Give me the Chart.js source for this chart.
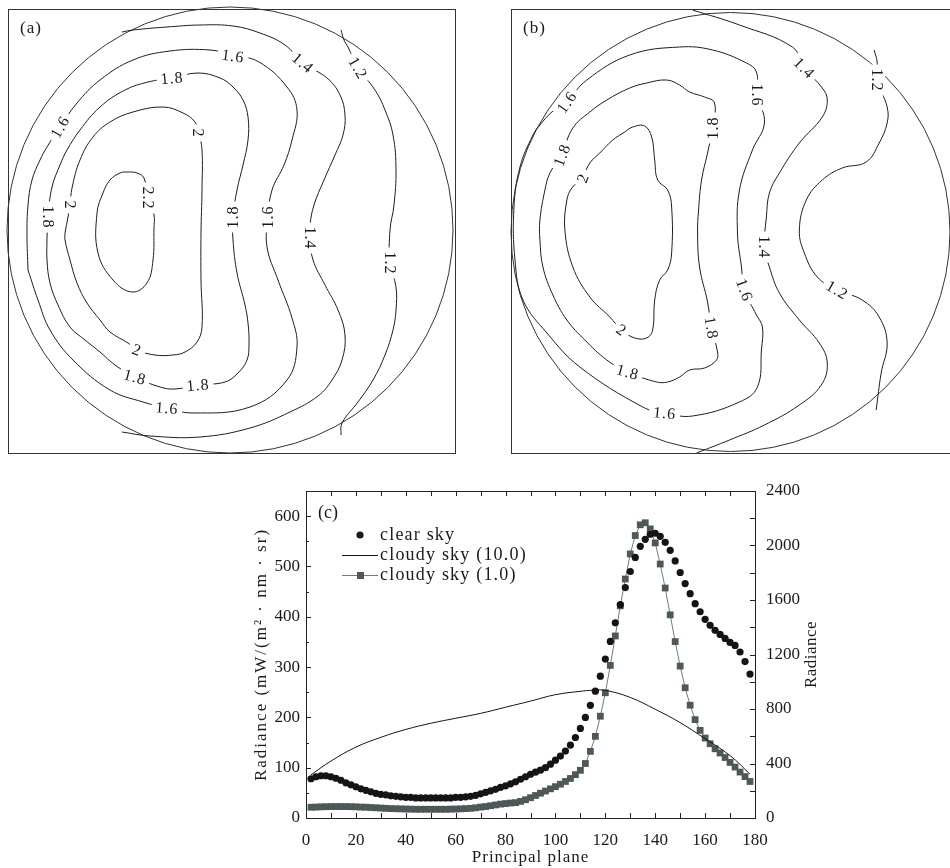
<!DOCTYPE html>
<html lang="en">

<head>
    <meta charset="UTF-8">
    <title>Sky radiance maps</title>
    <script src="https://cdn.jsdelivr.net/npm/chart.js"></script>
    <style>
        body { margin: 0; background: #fff; }
        #page { position: relative; width: 950px; height: 868px; overflow: hidden; }
        canvas { position: absolute; }
        #chartA { left: 0; top: 0; }
        #chartB { left: 480px; top: 0; }
        #chartC { left: 0; top: 465px; }
    </style>
</head>

<body>
    <div id="page">
        <canvas id="chartA" width="475" height="462"></canvas>
        <canvas id="chartB" width="470" height="462"></canvas>
        <canvas id="chartC" width="950" height="403"></canvas>
    </div>
    <script>
        const serif = '"Liberation Serif", "DejaVu Serif", serif';

        // ---- panel (c): principal plane radiance ----
        const angles = [2, 4, 6, 8, 10, 12, 14, 16, 18, 20, 22, 24, 26, 28, 30, 32, 34, 36, 38, 40,
            42, 44, 46, 48, 50, 52, 54, 56, 58, 60, 62, 64, 66, 68, 70, 72, 74, 76, 78, 80,
            82, 84, 86, 88, 90, 92, 94, 96, 98, 100, 102, 104, 106, 108, 110, 112, 114, 116, 118, 120,
            122, 124, 126, 128, 130, 132, 134, 136, 138, 140, 142, 144, 146, 148, 150, 152, 154, 156, 158, 160,
            162, 164, 166, 168, 170, 172, 174, 176, 178];
        const clearSky = [78, 82, 84, 84, 82, 79, 75, 70, 66, 62, 58, 55, 52, 49, 47, 46, 44, 43, 42, 41,
            41, 40, 40, 40, 40, 40, 40, 40, 40, 41, 41, 42, 43, 45, 48, 51, 54, 57, 61, 64,
            68, 72, 77, 82, 87, 91, 95, 100, 107, 115, 123, 133, 145, 160, 178, 200, 224, 252, 282, 316,
            351, 388, 424, 458, 490, 518, 540, 554, 564, 566, 560, 548, 532, 511, 488, 466, 446, 426, 410, 395,
            383, 373, 365, 357, 349, 343, 330, 311, 286];
        const cloudyThin = [79, 80, 82, 83, 84, 84, 84, 84, 83, 82, 80, 79, 77, 75, 73, 71, 69, 68, 67, 66,
            65, 64, 64, 64, 64, 64, 64, 64, 65, 66, 67, 69, 71, 75, 80, 84, 90, 96, 102, 106,
            110, 113, 122, 134, 149, 165, 182, 198, 214, 230, 248, 268, 290, 318, 350, 400, 489, 599, 747, 919,
            1120, 1336, 1557, 1754, 1938, 2073, 2152, 2167, 2122, 2019, 1864, 1688, 1491, 1295, 1115, 956, 828, 722, 643, 587,
            545, 508, 477, 444, 408, 374, 337, 304, 268];
        const thickAngles = [2, 10, 20, 30, 40, 50, 60, 70, 80, 90, 100, 110, 115, 120, 130, 140, 150, 160, 170, 178];
        const cloudyThick = [317, 418, 520, 592, 650, 695, 732, 768, 813, 858, 905, 930, 938, 937, 885, 798, 700, 582, 458, 322];

        const xTicks = { min: 0, max: 180, step: 20, minor: 10 };
        const leftTicks = { min: 0, max: 650, step: 100, minor: 50 };
        const rightTicks = { min: 0, max: 2400, step: 400, minor: 200 };

        // ---- panels (a) and (b): contour lines, map coordinates ----
        const a16 = [[28, 270], [27, 235], [28, 205], [32, 180], [40, 160], [47, 147], [60, 127], [77, 103], [100, 80], [133, 60], [170, 51], [210, 50], [233, 55], [259, 62], [287, 87], [297, 110], [292, 140], [284, 165], [272, 190], [268, 217], [267, 247], [278, 280], [292, 318], [297, 347], [287, 380], [250, 407], [192, 413], [167, 408], [143, 402], [110, 390], [73, 360], [50, 330], [38, 300], [28, 270]];
        const a18 = [[47, 238], [48, 217], [52, 187], [60, 165], [67, 150], [80, 130], [100, 107], [125, 90], [148, 82], [172, 78], [198, 73], [220, 78], [233, 87], [243, 100], [248, 117], [248, 140], [243, 165], [237, 190], [233, 217], [233, 240], [237, 273], [245, 305], [248, 323], [249, 345], [247, 360], [238, 373], [225, 382], [198, 385], [175, 389], [160, 387], [135, 377], [115, 365], [100, 352], [85, 340], [70, 327], [58, 305], [50, 283], [47, 260], [47, 238]];
        const a20 = [[65, 233], [70, 205], [72, 188], [80, 160], [93, 137], [110, 122], [133, 112], [163, 107], [183, 113], [195, 122], [199, 134], [202, 150], [202, 190], [201, 233], [201, 280], [202, 327], [197, 342], [185, 352], [173, 355], [155, 355], [137, 350], [128, 343], [110, 332], [100, 320], [87, 303], [77, 283], [70, 260], [65, 240], [65, 233]];
        const a22 = [[154, 228], [153, 260], [147, 283], [132, 292], [113, 280], [98, 253], [97, 213], [103, 193], [110, 180], [120, 173], [127, 172], [137, 173], [144, 178], [148, 198], [154, 215], [154, 228]];
        const a14 = [[122, 32], [133, 30], [167, 27], [200, 25], [233, 26], [260, 33], [285, 45], [303, 63], [327, 78], [340, 95], [345, 115], [343, 135], [335, 155], [324, 180], [314, 205], [310, 225], [310, 238], [313, 260], [325, 285], [338, 310], [345, 335], [342, 360], [332, 380], [318, 396], [290, 412], [250, 428], [200, 437], [150, 436], [122, 432]];
        const a12 = [[341, 30], [344, 40], [348, 47], [358, 68], [375, 90], [385, 110], [393, 135], [396, 170], [394, 205], [390, 230], [390, 263], [396, 287], [396, 310], [393, 330], [385, 355], [373, 380], [358, 402], [342, 423], [341, 435]];
        const labelsA = [
            { t: '1.6', x: 60, y: 127, r: -60 }, { t: '1.8', x: 172, y: 78, r: -5 }, { t: '1.6', x: 233, y: 56, r: 8 },
            { t: '1.4', x: 303, y: 63, r: 40 }, { t: '1.2', x: 358, y: 68, r: 60 }, { t: '2', x: 198, y: 133, r: 90 },
            { t: '2.2', x: 148, y: 198, r: 90 }, { t: '1.8', x: 48, y: 217, r: 90 }, { t: '2', x: 70, y: 205, r: 90 },
            { t: '1.8', x: 233, y: 217, r: -90 }, { t: '1.6', x: 268, y: 217, r: -90 }, { t: '1.4', x: 310, y: 238, r: 90 },
            { t: '1.2', x: 390, y: 263, r: 90 }, { t: '2', x: 137, y: 350, r: 20 }, { t: '1.8', x: 135, y: 377, r: 15 },
            { t: '1.8', x: 198, y: 385, r: -5 }, { t: '1.6', x: 167, y: 408, r: 5 }
        ];

        const b16 = [[567, 102], [552, 112], [540, 125], [533, 135], [520, 167], [514, 207], [515, 260], [523, 300], [547, 333], [580, 367], [643, 407], [665, 413], [693, 416], [740, 402], [758, 387], [762, 350], [763, 327], [757, 315], [745, 290], [742, 267], [738, 233], [740, 190], [753, 150], [765, 123], [758, 95], [757, 72], [747, 63], [713, 50], [680, 47], [630, 55], [587, 80], [567, 102]];
        const b18 = [[562, 155], [573, 128], [590, 112], [607, 100], [630, 88], [647, 83], [667, 80], [680, 85], [690, 92], [705, 97], [715, 103], [713, 128], [708, 153], [702, 180], [699, 210], [698, 233], [700, 267], [708, 302], [712, 328], [718, 352], [717, 360], [705, 368], [690, 370], [680, 377], [668, 382], [657, 382], [628, 372], [607, 360], [585, 340], [567, 320], [553, 295], [543, 267], [540, 240], [540, 220], [545, 190], [550, 173], [562, 155]];
        const b20 = [[583, 178], [590, 163], [600, 153], [613, 140], [625, 132], [633, 127], [645, 126], [652, 137], [655, 160], [658, 180], [668, 190], [672, 207], [672, 253], [668, 270], [660, 280], [655, 300], [653, 330], [647, 338], [635, 338], [622, 330], [610, 317], [590, 297], [573, 267], [565, 230], [567, 200], [572, 188], [583, 178]];
        const b14 = [[693, 10], [740, 25], [793, 47], [805, 68], [823, 88], [828, 100], [823, 117], [800, 143], [780, 173], [770, 193], [767, 217], [765, 247], [770, 267], [780, 293], [800, 320], [820, 343], [828, 363], [822, 385], [800, 405], [765, 425], [730, 440], [697, 453]];
        const b12 = [[875, 50], [878, 62], [878, 80], [888, 107], [888, 123], [880, 143], [867, 162], [843, 168], [823, 180], [807, 200], [800, 230], [805, 253], [818, 277], [838, 290], [863, 300], [880, 317], [888, 343], [882, 373], [877, 410]];
        const labelsB = [
            { t: '1.6', x: 567, y: 102, r: -55 }, { t: '1.8', x: 562, y: 155, r: -70 }, { t: '2', x: 583, y: 178, r: -70 },
            { t: '1.8', x: 713, y: 128, r: -90 }, { t: '1.6', x: 758, y: 95, r: 90 }, { t: '1.4', x: 805, y: 68, r: 45 },
            { t: '1.2', x: 878, y: 80, r: 90 }, { t: '1.4', x: 765, y: 247, r: 90 }, { t: '1.6', x: 745, y: 290, r: 70 },
            { t: '1.2', x: 838, y: 290, r: 30 }, { t: '1.8', x: 712, y: 328, r: 80 }, { t: '2', x: 622, y: 330, r: 35 },
            { t: '1.8', x: 628, y: 372, r: 15 }, { t: '1.6', x: 665, y: 413, r: 5 }
        ];

        const domeA = { cx: 230, cy: 230, r: 223 };
        const domeB = { cx: 731, cy: 232, r: 220 };

        // frame, sky dome circle and inline contour labels
        function mapDecor(dome, labels, tag) {
            return {
                id: 'mapDecor',
                beforeDatasetsDraw(chart) {
                    const { ctx, chartArea: a, scales: { x, y } } = chart;
                    ctx.save();
                    ctx.strokeStyle = '#333';
                    ctx.lineWidth = 1;
                    ctx.strokeRect(a.left + 0.5, a.top + 0.5, a.right - a.left, a.bottom - a.top);
                    const cx = x.getPixelForValue(dome.cx);
                    const cy = y.getPixelForValue(dome.cy);
                    const r = x.getPixelForValue(dome.cx + dome.r) - cx;
                    ctx.beginPath();
                    ctx.arc(cx, cy, r, 0, Math.PI * 2);
                    ctx.stroke();
                    ctx.restore();
                },
                afterDatasetsDraw(chart) {
                    const { ctx, chartArea: a, scales: { x, y } } = chart;
                    ctx.save();
                    ctx.font = '16px ' + serif;
                    ctx.letterSpacing = '1px';
                    ctx.textAlign = 'center';
                    ctx.textBaseline = 'middle';
                    labels.forEach(l => {
                        ctx.save();
                        ctx.translate(x.getPixelForValue(l.x), y.getPixelForValue(l.y));
                        ctx.rotate(l.r * Math.PI / 180);
                        const w = ctx.measureText(l.t).width;
                        ctx.fillStyle = '#fff';
                        ctx.fillRect(-w / 2 - 4, -8, w + 8, 16);
                        ctx.fillStyle = '#1a1a1a';
                        ctx.fillText(l.t, 0, 1);
                        ctx.restore();
                    });
                    ctx.font = '17px ' + serif;
                    ctx.textAlign = 'left';
                    ctx.fillStyle = '#1a1a1a';
                    ctx.fillText(tag, a.left + 12, a.top + 20);
                    ctx.restore();
                }
            };
        }

        function contourChart(id, lines, labels, dome, tag, xRange, yRange, pad) {
            return new Chart(document.getElementById(id), {
                type: 'scatter',
                data: {
                    datasets: lines.map(pts => ({
                        data: pts.map(p => ({ x: p[0], y: p[1] })),
                        showLine: true,
                        pointRadius: 0,
                        borderColor: '#1e1e1e',
                        borderWidth: 1,
                        tension: 0.4
                    }))
                },
                options: {
                    responsive: false,
                    animation: false,
                    events: [],
                    layout: { padding: pad },
                    plugins: { legend: { display: false }, tooltip: { enabled: false } },
                    scales: {
                        x: { type: 'linear', display: false, min: xRange[0], max: xRange[1] },
                        y: { type: 'linear', display: false, min: yRange[0], max: yRange[1], reverse: true }
                    }
                },
                plugins: [mapDecor(dome, labels, tag)]
            });
        }

        contourChart('chartA', [a16, a18, a20, a22, a14, a12], labelsA, domeA, '(a)',
            [8, 455], [9, 453], { left: 8, top: 9, right: 20, bottom: 9 });
        contourChart('chartB', [b16, b18, b20, b14, b12], labelsB, domeB, '(b)',
            [511, 951], [9, 453], { left: 31, top: 9, right: 0, bottom: 9 });

        // inward ticks, box, legend and axis titles for panel (c)
        const plotDecor = {
            id: 'plotDecor',
            afterDraw(chart) {
                const { ctx, chartArea: a, scales } = chart;
                ctx.save();
                ctx.strokeStyle = '#222';
                ctx.lineWidth = 1;
                ctx.strokeRect(a.left + 0.5, a.top + 0.5, a.right - a.left, a.bottom - a.top);
                ctx.beginPath();
                for (let v = xTicks.min; v <= xTicks.max; v += xTicks.minor) {
                    const px = Math.round(scales.x.getPixelForValue(v)) + 0.5;
                    ctx.moveTo(px, a.bottom); ctx.lineTo(px, a.bottom - 5);
                    ctx.moveTo(px, a.top); ctx.lineTo(px, a.top + 5);
                }
                for (let v = leftTicks.min; v <= leftTicks.max; v += leftTicks.minor) {
                    const py = Math.round(scales.y.getPixelForValue(v)) + 0.5;
                    const len = v % leftTicks.step === 0 ? 5 : 3;
                    ctx.moveTo(a.left, py); ctx.lineTo(a.left + len, py);
                }
                for (let v = rightTicks.min; v <= rightTicks.max; v += rightTicks.minor) {
                    const py = Math.round(scales.y2.getPixelForValue(v)) + 0.5;
                    ctx.moveTo(a.right, py); ctx.lineTo(a.right - 5, py);
                }
                ctx.stroke();

                ctx.fillStyle = '#1a1a1a';
                ctx.font = '18px ' + serif;
                ctx.textBaseline = 'middle';
                ctx.textAlign = 'left';
                ctx.fillText('(c)', a.left + 12, a.top + 22);

                // legend
                ctx.letterSpacing = '1.2px';
                const ds = chart.data.datasets;
                const lx = a.left + 36, tx = a.left + 74;
                let ly = a.top + 44;
                ctx.beginPath();
                ctx.arc(a.left + 54, ly, ds[0].pointRadius, 0, Math.PI * 2);
                ctx.fill();
                ctx.fillText(ds[0].label, tx, ly);
                ly += 20;
                ctx.strokeStyle = ds[1].borderColor;
                ctx.beginPath(); ctx.moveTo(lx, ly + 0.5); ctx.lineTo(lx + 36, ly + 0.5); ctx.stroke();
                ctx.fillText(ds[1].label, tx, ly);
                ly += 20;
                ctx.strokeStyle = ds[2].borderColor;
                ctx.beginPath(); ctx.moveTo(lx, ly + 0.5); ctx.lineTo(lx + 36, ly + 0.5); ctx.stroke();
                ctx.fillStyle = ds[2].pointBackgroundColor;
                ctx.fillRect(a.left + 51, ly - 3, 7, 7);
                ctx.fillStyle = '#1a1a1a';
                ctx.fillText(ds[2].label, tx, ly);

                // axis titles
                ctx.font = '17px ' + serif;
                ctx.textAlign = 'center';
                ctx.letterSpacing = '1px';
                ctx.fillText('Principal plane', (a.left + a.right) / 2, a.bottom + 40);
                const midY = (a.top + a.bottom) / 2;
                ctx.save();
                ctx.translate(a.left - 44, midY);
                ctx.rotate(-Math.PI / 2);
                ctx.letterSpacing = '2px';
                ctx.fillText('Radiance (mW/(m² · nm · sr)', 0, 0);
                ctx.restore();
                ctx.translate(a.right + 57, midY);
                ctx.rotate(-Math.PI / 2);
                ctx.letterSpacing = '0.5px';
                ctx.fillText('Radiance', 0, 0);
                ctx.restore();
            }
        };

        const tickFont = { family: serif, size: 17 };
        const plainNumber = v => String(v);

        new Chart(document.getElementById('chartC'), {
            type: 'scatter',
            data: {
                datasets: [
                    {
                        label: 'clear sky',
                        data: angles.map((a, i) => ({ x: a, y: clearSky[i] })),
                        yAxisID: 'y',
                        showLine: false,
                        pointRadius: 3.6,
                        pointBackgroundColor: '#141414',
                        pointBorderColor: '#141414',
                        pointBorderWidth: 0
                    },
                    {
                        label: 'cloudy sky (10.0)',
                        data: thickAngles.map((a, i) => ({ x: a, y: cloudyThick[i] })),
                        yAxisID: 'y2',
                        showLine: true,
                        pointRadius: 0,
                        borderColor: '#141414',
                        borderWidth: 1,
                        tension: 0.4
                    },
                    {
                        label: 'cloudy sky (1.0)',
                        data: angles.map((a, i) => ({ x: a, y: cloudyThin[i] })),
                        yAxisID: 'y2',
                        showLine: true,
                        pointStyle: 'rect',
                        pointRadius: 4.8,
                        pointBackgroundColor: '#4d5959',
                        pointBorderColor: '#4d5959',
                        pointBorderWidth: 0,
                        borderColor: '#6f7a7a',
                        borderWidth: 1
                    }
                ]
            },
            options: {
                responsive: false,
                animation: false,
                events: [],
                layout: { padding: { left: 250, right: 120, top: 26, bottom: 0 } },
                plugins: { legend: { display: false }, tooltip: { enabled: false } },
                scales: {
                    x: {
                        type: 'linear',
                        min: xTicks.min, max: xTicks.max,
                        grid: { display: false, drawTicks: false },
                        border: { display: false },
                        ticks: { stepSize: xTicks.step, font: tickFont, color: '#1a1a1a', padding: 12, maxRotation: 0, callback: plainNumber },
                        afterFit: s => { s.height = 50; }
                    },
                    y: {
                        type: 'linear', position: 'left',
                        min: leftTicks.min, max: leftTicks.max,
                        grid: { display: false, drawTicks: false },
                        border: { display: false },
                        ticks: { stepSize: leftTicks.step, includeBounds: false, font: tickFont, color: '#1a1a1a', padding: 6, callback: plainNumber },
                        afterFit: s => { s.width = 56; }
                    },
                    y2: {
                        type: 'linear', position: 'right',
                        min: rightTicks.min, max: rightTicks.max,
                        grid: { display: false, drawTicks: false },
                        border: { display: false },
                        ticks: { stepSize: rightTicks.step, font: tickFont, color: '#1a1a1a', padding: 11, callback: plainNumber },
                        afterFit: s => { s.width = 75; }
                    }
                }
            },
            plugins: [plotDecor]
        });
    </script>
</body>

</html>
